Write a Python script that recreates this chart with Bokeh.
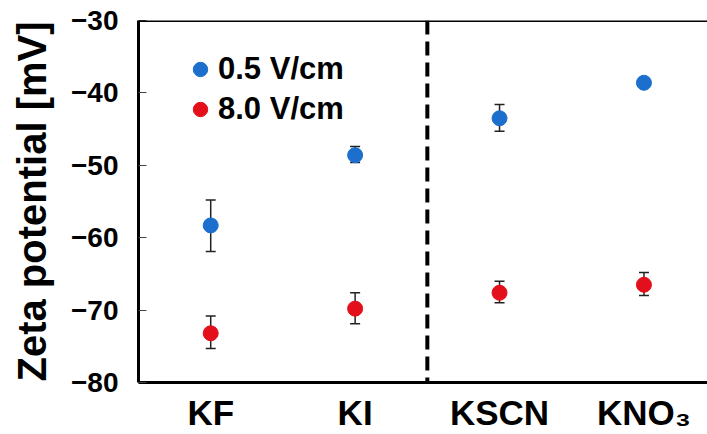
import numpy as np
from bokeh.plotting import figure
from bokeh.models import (ColumnDataSource, Range1d, Whisker, TeeHead, Span,
                          Legend, LegendItem, FixedTicker)
from bokeh.embed import file_html
from bokeh.resources import INLINE

# ---- data ----
salts = ["KF", "KI", "KSCN", "KNO\u2083"]
low_field = [-58.3, -48.6, -43.5, -38.6]          # 0.5 V/cm
low_field_upper = [-54.8, -47.4, -41.6, -38.3]
low_field_lower = [-61.9, -49.6, -45.3, -38.9]
high_field = [-73.2, -69.8, -67.6, -66.5]         # 8.0 V/cm
high_field_upper = [-70.8, -67.6, -66.0, -64.8]
high_field_lower = [-75.3, -71.9, -69.0, -68.0]
y_ticks = [-80, -70, -60, -50, -40, -30]
y_tick_labels = ["\u221280", "\u221270", "\u221260", "\u221250", "\u221240", "\u221230"]
series_labels = ["0.5 V/cm", "8.0 V/cm"]

BLUE = "#1c6fcc"
RED = "#e3101c"
FONT = "Liberation Sans"

x = np.arange(len(salts)) + 0.5

src_low = ColumnDataSource(dict(x=x, y=low_field, up=low_field_upper, lo=low_field_lower))
src_high = ColumnDataSource(dict(x=x, y=high_field, up=high_field_upper, lo=high_field_lower))

p = figure(width=707, height=434, output_backend="svg", toolbar_location=None,
           x_range=Range1d(0, 3.94), y_range=Range1d(-80, -30),
           min_border_left=138, min_border_right=0, min_border_top=20, min_border_bottom=52)

p.background_fill_color = "white"
p.border_fill_color = "white"
p.grid.visible = False
p.outline_line_color = None

# top border of the frame (the right side is cut off in the original)
p.add_layout(Span(location=-30, dimension="width", line_color="black", line_width=3))

# dashed separator between KI and KSCN
p.add_layout(Span(location=2.0, dimension="height", line_color="black",
                  line_width=4, line_dash="14 7"))

for src in (src_low, src_high):
    w = Whisker(source=src, base="x", upper="up", lower="lo", dimension="height",
                line_color="#222222", line_width=1.5,
                upper_head=TeeHead(size=10, line_color="#222222", line_width=1.5),
                lower_head=TeeHead(size=10, line_color="#222222", line_width=1.5))
    p.add_layout(w)

r_low = p.scatter("x", "y", source=src_low, size=15, fill_color=BLUE, line_color=BLUE)
r_high = p.scatter("x", "y", source=src_high, size=15, fill_color=RED, line_color=RED)

legend = Legend(items=[LegendItem(label=series_labels[0], renderers=[r_low]),
                       LegendItem(label=series_labels[1], renderers=[r_high])],
                location=(44, 255), orientation="vertical",
                border_line_color=None, background_fill_alpha=0,
                padding=0, margin=0, spacing=4,
                glyph_width=36, glyph_height=36, label_standoff=0,
                label_text_font=FONT, label_text_font_style="bold",
                label_text_font_size="31px", label_text_color="black")
p.add_layout(legend)

# y axis
p.yaxis.ticker = FixedTicker(ticks=y_ticks)
p.yaxis.major_label_overrides = {t: l for t, l in zip(y_ticks, y_tick_labels)}
p.yaxis.axis_label = "Zeta potential [mV]"
p.yaxis.axis_label_text_font = FONT
p.yaxis.axis_label_text_font_style = "bold"
p.yaxis.axis_label_text_font_size = "40px"
p.yaxis.axis_label_text_color = "black"
p.yaxis.axis_label_standoff = 14
p.yaxis.major_label_text_font = FONT
p.yaxis.major_label_text_font_style = "bold"
p.yaxis.major_label_text_font_size = "28px"
p.yaxis.major_label_text_color = "black"
p.yaxis.major_label_standoff = 20
p.yaxis.major_tick_in = 8
p.yaxis.major_tick_out = 0
p.yaxis.major_tick_line_color = "#444444"
p.yaxis.major_tick_line_width = 1
p.yaxis.minor_tick_line_color = None
p.yaxis.axis_line_width = 3
p.yaxis.axis_line_color = "black"

# x axis
p.xaxis.ticker = FixedTicker(ticks=list(x))
p.xaxis.major_label_overrides = {float(t): s for t, s in zip(x, salts)}
p.xaxis.major_label_text_font = FONT
p.xaxis.major_label_text_font_style = "bold"
p.xaxis.major_label_text_font_size = "35px"
p.xaxis.major_label_text_color = "black"
p.xaxis.major_label_standoff = 4
p.xaxis.major_tick_line_color = None
p.xaxis.minor_tick_line_color = None
p.xaxis.axis_line_width = 3
p.xaxis.axis_line_color = "black"

open("out.html", "w").write(file_html(p, INLINE))
